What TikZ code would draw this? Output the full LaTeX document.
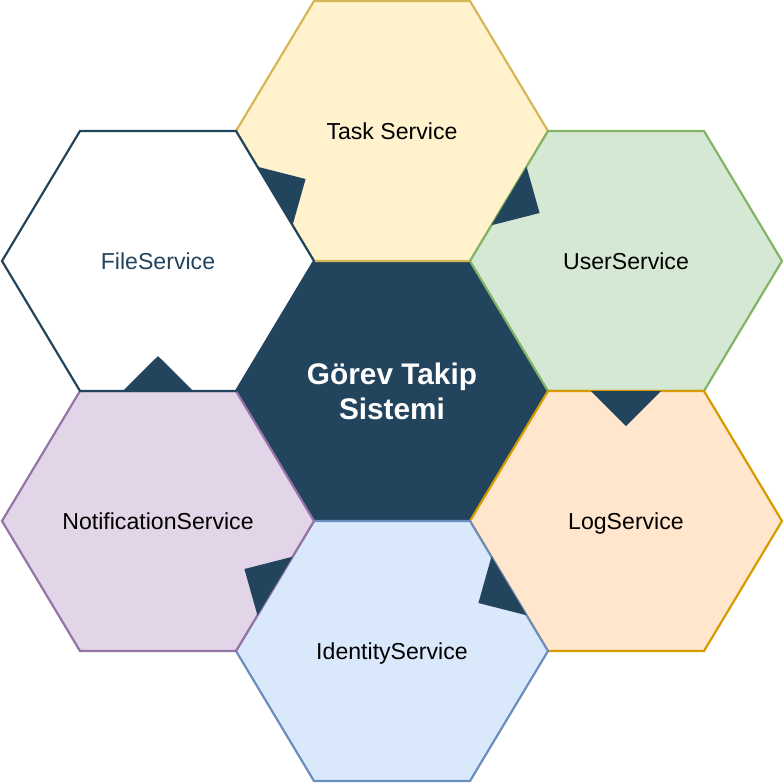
\documentclass[tikz,border=0pt]{standalone}
\usepackage{fontspec}
\setmainfont{Liberation Sans}
\usepackage{xcolor}
\usepackage{tikz}
\usetikzlibrary{calc}

\definecolor{coreblue}{HTML}{23445D}
\definecolor{taskfill}{HTML}{FFF2CC}
\definecolor{taskline}{HTML}{D6B656}
\definecolor{userfill}{HTML}{D5E8D4}
\definecolor{userline}{HTML}{82B366}
\definecolor{logfill}{HTML}{FFE6CC}
\definecolor{logline}{HTML}{D79B00}
\definecolor{idfill}{HTML}{DAE8FC}
\definecolor{idline}{HTML}{6C8EBF}
\definecolor{notiffill}{HTML}{E1D5E7}
\definecolor{notifline}{HTML}{9673A6}

\tikzset{
  hexbox/.style={line width=1.1pt, line join=miter},
  servicetext/.style={inner sep=0pt, text height=8.2pt, text depth=0pt,
    font=\fontsize{11.55}{13.5}\selectfont},
  coretext/.style={inner sep=0pt, align=center, text=white,
    font=\fontsize{14.9}{17.5}\selectfont\bfseries},
}

% hexagon round a centre, its corners get names
\newcommand{\hexagon}[2]{%
  \filldraw[hexbox,#2] (#1) ++(-156,0) coordinate (#1-w)
    -- ++(78,-130) coordinate (#1-nw) -- ++(156,0) coordinate (#1-ne)
    -- ++(78,130) coordinate (#1-e) -- ++(-78,130) coordinate (#1-se)
    -- ++(-156,0) coordinate (#1-sw) -- cycle;}

% pointer on a shared side, towards the next hexagon
\newcommand{\pointer}[3]{%
  \fill[coreblue] ($(#1)!0.275!(#2)$) -- ($(#1)!0.725!(#2)$)
    -- ($(#1)!0.5!(#2)!17.5pt!(#3)$) -- cycle;}

\begin{document}
\begin{tikzpicture}[x=0.5pt,y=-0.5pt]

	\useasboundingbox (0,0) rectangle (783,783);

	\coordinate (core) at (392,391);
	\coordinate (task) at (392,131);
	\coordinate (user) at (626,261);
	\coordinate (log) at (626,521);
	\coordinate (ident) at (392,651);
	\coordinate (notif) at (158,521);
	\coordinate (file) at (158,261);

	\hexagon{core}{fill=coreblue, draw=coreblue}
	\hexagon{task}{fill=taskfill, draw=taskline}
	\hexagon{user}{fill=userfill, draw=userline}
	\hexagon{log}{fill=logfill, draw=logline}
	\hexagon{ident}{fill=idfill, draw=idline}
	\hexagon{notif}{fill=notiffill, draw=notifline}
	\hexagon{file}{fill=white, draw=coreblue}

	\pointer{file-ne}{file-e}{task}
	\pointer{task-e}{task-se}{user}
	\pointer{user-sw}{user-se}{log}
	\pointer{log-w}{log-sw}{ident}
	\pointer{ident-nw}{ident-w}{notif}
	\pointer{notif-nw}{notif-ne}{file}

	\node [coretext] (core-text) at (core) {Görev Takip\\Sistemi};
	\node [servicetext] (task-text) at (task) {Task Service};
	\node [servicetext] (user-text) at (user) {UserService};
	\node [servicetext] (log-text) at (log) {LogService};
	\node [servicetext] (ident-text) at (ident) {IdentityService};
	\node [servicetext] (notif-text) at (notif) {NotificationService};
	\node [servicetext, text=coreblue] (file-text) at (file) {FileService};

\end{tikzpicture}
\end{document}
